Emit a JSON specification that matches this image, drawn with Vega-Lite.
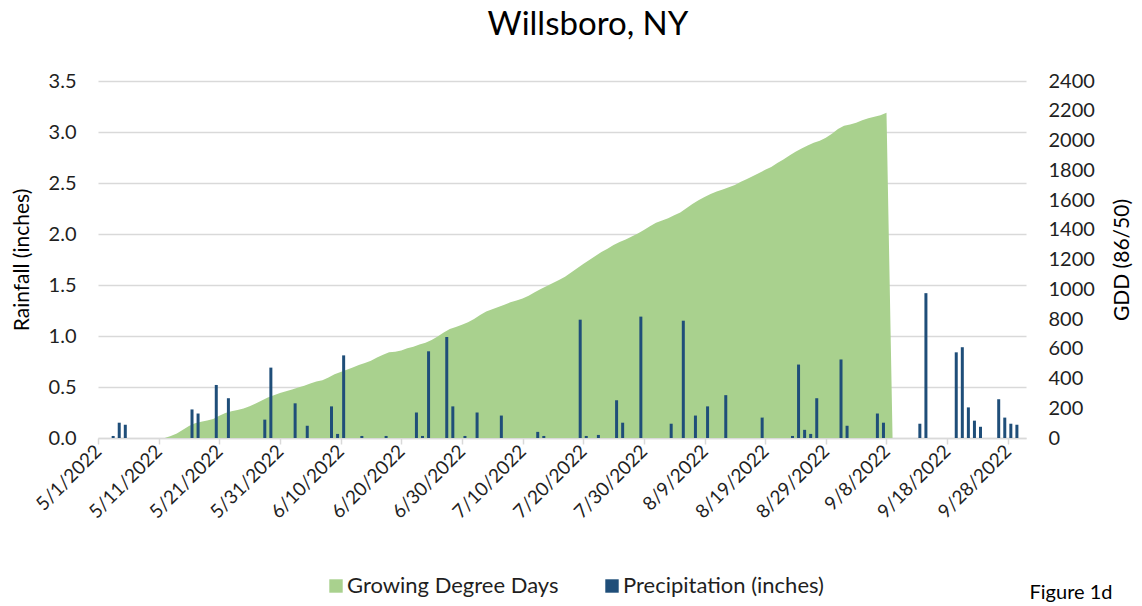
{
  "$schema": "https://vega.github.io/schema/vega-lite/v6.json",
  "autosize": {"type": "none"},
  "padding": {"left": 98, "top": 81, "right": 116, "bottom": 168},
  "width": 928,
  "height": 357,
  "background": "white",
  "config": {
    "font": "Lato",
    "view": {"stroke": null},
    "axis": {"labelFont": "Lato", "titleFont": "Lato", "labelColor": "#1f1f1f", "titleColor": "#000000", "titleFontWeight": "normal", "labelFontSize": 20, "titleFontSize": 21}
  },
  "title": {"text": "Willsboro, NY", "fontSize": 33, "font": "Lato", "fontWeight": "normal", "color": "#000000", "anchor": "middle", "dx": 26, "offset": 29},
  "datasets": {
    "gdd": [
      {"date": "2022-05-01", "gdd": 0}, {"date": "2022-05-02", "gdd": 0}, {"date": "2022-05-03", "gdd": 0}, {"date": "2022-05-04", "gdd": 0},
      {"date": "2022-05-05", "gdd": 0}, {"date": "2022-05-06", "gdd": 0}, {"date": "2022-05-07", "gdd": 0}, {"date": "2022-05-08", "gdd": 0},
      {"date": "2022-05-09", "gdd": 0}, {"date": "2022-05-10", "gdd": 0}, {"date": "2022-05-11", "gdd": 0}, {"date": "2022-05-12", "gdd": 0},
      {"date": "2022-05-13", "gdd": 14}, {"date": "2022-05-14", "gdd": 30}, {"date": "2022-05-15", "gdd": 55}, {"date": "2022-05-16", "gdd": 80},
      {"date": "2022-05-17", "gdd": 100}, {"date": "2022-05-18", "gdd": 110}, {"date": "2022-05-19", "gdd": 118}, {"date": "2022-05-20", "gdd": 128},
      {"date": "2022-05-21", "gdd": 150}, {"date": "2022-05-22", "gdd": 168}, {"date": "2022-05-23", "gdd": 180}, {"date": "2022-05-24", "gdd": 188},
      {"date": "2022-05-25", "gdd": 199}, {"date": "2022-05-26", "gdd": 213}, {"date": "2022-05-27", "gdd": 232}, {"date": "2022-05-28", "gdd": 252},
      {"date": "2022-05-29", "gdd": 272}, {"date": "2022-05-30", "gdd": 287}, {"date": "2022-05-31", "gdd": 303}, {"date": "2022-06-01", "gdd": 315},
      {"date": "2022-06-02", "gdd": 326}, {"date": "2022-06-03", "gdd": 339}, {"date": "2022-06-04", "gdd": 352}, {"date": "2022-06-05", "gdd": 366},
      {"date": "2022-06-06", "gdd": 379}, {"date": "2022-06-07", "gdd": 389}, {"date": "2022-06-08", "gdd": 407}, {"date": "2022-06-09", "gdd": 428},
      {"date": "2022-06-10", "gdd": 444}, {"date": "2022-06-11", "gdd": 458}, {"date": "2022-06-12", "gdd": 474}, {"date": "2022-06-13", "gdd": 490},
      {"date": "2022-06-14", "gdd": 505}, {"date": "2022-06-15", "gdd": 520}, {"date": "2022-06-16", "gdd": 541}, {"date": "2022-06-17", "gdd": 560},
      {"date": "2022-06-18", "gdd": 576}, {"date": "2022-06-19", "gdd": 579}, {"date": "2022-06-20", "gdd": 588}, {"date": "2022-06-21", "gdd": 603},
      {"date": "2022-06-22", "gdd": 614}, {"date": "2022-06-23", "gdd": 628}, {"date": "2022-06-24", "gdd": 640}, {"date": "2022-06-25", "gdd": 658},
      {"date": "2022-06-26", "gdd": 682}, {"date": "2022-06-27", "gdd": 710}, {"date": "2022-06-28", "gdd": 732}, {"date": "2022-06-29", "gdd": 747},
      {"date": "2022-06-30", "gdd": 762}, {"date": "2022-07-01", "gdd": 778}, {"date": "2022-07-02", "gdd": 800}, {"date": "2022-07-03", "gdd": 827},
      {"date": "2022-07-04", "gdd": 850}, {"date": "2022-07-05", "gdd": 866}, {"date": "2022-07-06", "gdd": 881}, {"date": "2022-07-07", "gdd": 896},
      {"date": "2022-07-08", "gdd": 912}, {"date": "2022-07-09", "gdd": 924}, {"date": "2022-07-10", "gdd": 938}, {"date": "2022-07-11", "gdd": 956},
      {"date": "2022-07-12", "gdd": 980}, {"date": "2022-07-13", "gdd": 1001}, {"date": "2022-07-14", "gdd": 1022}, {"date": "2022-07-15", "gdd": 1042},
      {"date": "2022-07-16", "gdd": 1062}, {"date": "2022-07-17", "gdd": 1084}, {"date": "2022-07-18", "gdd": 1112}, {"date": "2022-07-19", "gdd": 1142},
      {"date": "2022-07-20", "gdd": 1170}, {"date": "2022-07-21", "gdd": 1197}, {"date": "2022-07-22", "gdd": 1224}, {"date": "2022-07-23", "gdd": 1250},
      {"date": "2022-07-24", "gdd": 1273}, {"date": "2022-07-25", "gdd": 1297}, {"date": "2022-07-26", "gdd": 1318}, {"date": "2022-07-27", "gdd": 1334},
      {"date": "2022-07-28", "gdd": 1354}, {"date": "2022-07-29", "gdd": 1374}, {"date": "2022-07-30", "gdd": 1398}, {"date": "2022-07-31", "gdd": 1424},
      {"date": "2022-08-01", "gdd": 1447}, {"date": "2022-08-02", "gdd": 1462}, {"date": "2022-08-03", "gdd": 1477}, {"date": "2022-08-04", "gdd": 1497},
      {"date": "2022-08-05", "gdd": 1516}, {"date": "2022-08-06", "gdd": 1545}, {"date": "2022-08-07", "gdd": 1573}, {"date": "2022-08-08", "gdd": 1598},
      {"date": "2022-08-09", "gdd": 1620}, {"date": "2022-08-10", "gdd": 1640}, {"date": "2022-08-11", "gdd": 1657}, {"date": "2022-08-12", "gdd": 1671},
      {"date": "2022-08-13", "gdd": 1685}, {"date": "2022-08-14", "gdd": 1701}, {"date": "2022-08-15", "gdd": 1722}, {"date": "2022-08-16", "gdd": 1742},
      {"date": "2022-08-17", "gdd": 1762}, {"date": "2022-08-18", "gdd": 1782}, {"date": "2022-08-19", "gdd": 1803}, {"date": "2022-08-20", "gdd": 1822},
      {"date": "2022-08-21", "gdd": 1848}, {"date": "2022-08-22", "gdd": 1873}, {"date": "2022-08-23", "gdd": 1900}, {"date": "2022-08-24", "gdd": 1925},
      {"date": "2022-08-25", "gdd": 1947}, {"date": "2022-08-26", "gdd": 1967}, {"date": "2022-08-27", "gdd": 1985}, {"date": "2022-08-28", "gdd": 1999},
      {"date": "2022-08-29", "gdd": 2018}, {"date": "2022-08-30", "gdd": 2045}, {"date": "2022-08-31", "gdd": 2077}, {"date": "2022-09-01", "gdd": 2100},
      {"date": "2022-09-02", "gdd": 2108}, {"date": "2022-09-03", "gdd": 2120}, {"date": "2022-09-04", "gdd": 2136}, {"date": "2022-09-05", "gdd": 2150},
      {"date": "2022-09-06", "gdd": 2160}, {"date": "2022-09-07", "gdd": 2170}, {"date": "2022-09-08", "gdd": 2187}, {"date": "2022-09-09", "gdd": 0}
    ],
    "precip": [
      {"date": "2022-05-03", "precip": 0.02}, {"date": "2022-05-04", "precip": 0.15}, {"date": "2022-05-05", "precip": 0.13},
      {"date": "2022-05-16", "precip": 0.28}, {"date": "2022-05-17", "precip": 0.24}, {"date": "2022-05-20", "precip": 0.52},
      {"date": "2022-05-22", "precip": 0.39}, {"date": "2022-05-28", "precip": 0.18}, {"date": "2022-05-29", "precip": 0.69},
      {"date": "2022-06-02", "precip": 0.34}, {"date": "2022-06-04", "precip": 0.12}, {"date": "2022-06-08", "precip": 0.31},
      {"date": "2022-06-09", "precip": 0.04}, {"date": "2022-06-10", "precip": 0.81}, {"date": "2022-06-13", "precip": 0.02},
      {"date": "2022-06-17", "precip": 0.02}, {"date": "2022-06-22", "precip": 0.25}, {"date": "2022-06-23", "precip": 0.02},
      {"date": "2022-06-24", "precip": 0.85}, {"date": "2022-06-27", "precip": 0.99}, {"date": "2022-06-28", "precip": 0.31},
      {"date": "2022-06-30", "precip": 0.02}, {"date": "2022-07-02", "precip": 0.25}, {"date": "2022-07-06", "precip": 0.22},
      {"date": "2022-07-12", "precip": 0.06}, {"date": "2022-07-13", "precip": 0.02}, {"date": "2022-07-19", "precip": 1.16},
      {"date": "2022-07-20", "precip": 0.02}, {"date": "2022-07-22", "precip": 0.03}, {"date": "2022-07-25", "precip": 0.37},
      {"date": "2022-07-26", "precip": 0.15}, {"date": "2022-07-29", "precip": 1.19}, {"date": "2022-08-03", "precip": 0.14},
      {"date": "2022-08-05", "precip": 1.15}, {"date": "2022-08-07", "precip": 0.22}, {"date": "2022-08-09", "precip": 0.31},
      {"date": "2022-08-12", "precip": 0.42}, {"date": "2022-08-18", "precip": 0.20}, {"date": "2022-08-23", "precip": 0.02},
      {"date": "2022-08-24", "precip": 0.72}, {"date": "2022-08-25", "precip": 0.08}, {"date": "2022-08-26", "precip": 0.04},
      {"date": "2022-08-27", "precip": 0.39}, {"date": "2022-08-31", "precip": 0.77}, {"date": "2022-09-01", "precip": 0.12},
      {"date": "2022-09-06", "precip": 0.24}, {"date": "2022-09-07", "precip": 0.15}, {"date": "2022-09-13", "precip": 0.14},
      {"date": "2022-09-14", "precip": 1.42}, {"date": "2022-09-19", "precip": 0.84}, {"date": "2022-09-20", "precip": 0.89},
      {"date": "2022-09-21", "precip": 0.30}, {"date": "2022-09-22", "precip": 0.17}, {"date": "2022-09-23", "precip": 0.11},
      {"date": "2022-09-26", "precip": 0.38}, {"date": "2022-09-27", "precip": 0.20}, {"date": "2022-09-28", "precip": 0.14},
      {"date": "2022-09-29", "precip": 0.13}
    ]
  },
  "layer": [
    {
      "data": {"name": "gdd"},
      "mark": {"type": "area", "opacity": 1},
      "encoding": {
        "x": {
          "field": "date", "type": "temporal", "timeUnit": "utcyearmonthdate", "bandPosition": 0.5,
          "scale": {"domain": [{"year": 2022, "month": 5, "date": 1, "utc": true}, {"year": 2022, "month": 10, "date": 1, "utc": true}]},
          "axis": {
            "values": [
              {"year": 2022, "month": 5, "date": 1, "utc": true}, {"year": 2022, "month": 5, "date": 11, "utc": true},
              {"year": 2022, "month": 5, "date": 21, "utc": true}, {"year": 2022, "month": 5, "date": 31, "utc": true},
              {"year": 2022, "month": 6, "date": 10, "utc": true}, {"year": 2022, "month": 6, "date": 20, "utc": true},
              {"year": 2022, "month": 6, "date": 30, "utc": true}, {"year": 2022, "month": 7, "date": 10, "utc": true},
              {"year": 2022, "month": 7, "date": 20, "utc": true}, {"year": 2022, "month": 7, "date": 30, "utc": true},
              {"year": 2022, "month": 8, "date": 9, "utc": true}, {"year": 2022, "month": 8, "date": 19, "utc": true},
              {"year": 2022, "month": 8, "date": 29, "utc": true}, {"year": 2022, "month": 9, "date": 8, "utc": true},
              {"year": 2022, "month": 9, "date": 18, "utc": true}, {"year": 2022, "month": 9, "date": 28, "utc": true}
            ],
            "labelExpr": "utcFormat(datum.value, '%-m/%-d/%Y')",
            "labelAngle": -45, "labelAlign": "right", "labelBaseline": "middle", "labelPadding": 4, "labelFontSize": 19,
            "labelOverlap": false, "labelBound": false, "labelFlush": false,
            "grid": false, "domainColor": "#D9D9D9", "domainWidth": 1.5, "tickColor": "#D9D9D9", "tickWidth": 1.5, "tickSize": 6,
            "title": "Figure 1d", "titleFontSize": 20, "titleColor": "#000000", "titleAlign": "right", "titleAnchor": null,
            "titleX": 1014, "titleY": 160, "titleBaseline": "alphabetic"
          }
        },
        "y": {
          "field": "gdd", "type": "quantitative",
          "scale": {"domain": [0, 2400]},
          "axis": {"orient": "right", "values": [0, 200, 400, 600, 800, 1000, 1200, 1400, 1600, 1800, 2000, 2200, 2400], "format": "d", "grid": false, "domain": false, "ticks": false, "labelPadding": 22, "title": "GDD (86/50)", "titleAngle": 270, "titlePadding": 38}
        },
        "color": {"datum": "Growing Degree Days", "type": "nominal",
          "scale": {"domain": ["Growing Degree Days", "Precipitation (inches)"], "range": ["#A9D18E", "#1F4E79"]},
          "legend": {"title": null, "orient": "none", "legendX": 227, "legendY": 494, "direction": "horizontal", "symbolType": "square", "symbolSize": 180, "symbolStrokeWidth": 0, "symbolOpacity": 1, "labelFontSize": 22, "labelFont": "Lato", "labelColor": "#1f1f1f", "labelLimit": 400, "columnPadding": 42, "labelOffset": 0}
        }
      }
    },
    {
      "data": {"name": "precip"},
      "mark": {"type": "bar", "width": 3, "color": "#1F4E79"},
      "encoding": {
        "x": {"field": "date", "type": "temporal", "timeUnit": "utcyearmonthdate", "bandPosition": 0.5},
        "y": {
          "field": "precip", "type": "quantitative",
          "scale": {"domain": [0, 3.5]},
          "axis": {"orient": "left", "values": [0, 0.5, 1, 1.5, 2, 2.5, 3, 3.5], "format": ".1f", "grid": true, "gridColor": "#D9D9D9", "gridWidth": 1.5, "domain": false, "ticks": false, "labelPadding": 22, "title": "Rainfall (inches)", "titleAngle": 270, "titlePadding": 16}
        },
        "color": {"datum": "Precipitation (inches)", "type": "nominal"}
      }
    }
  ],
  "resolve": {"scale": {"y": "independent"}}
}
